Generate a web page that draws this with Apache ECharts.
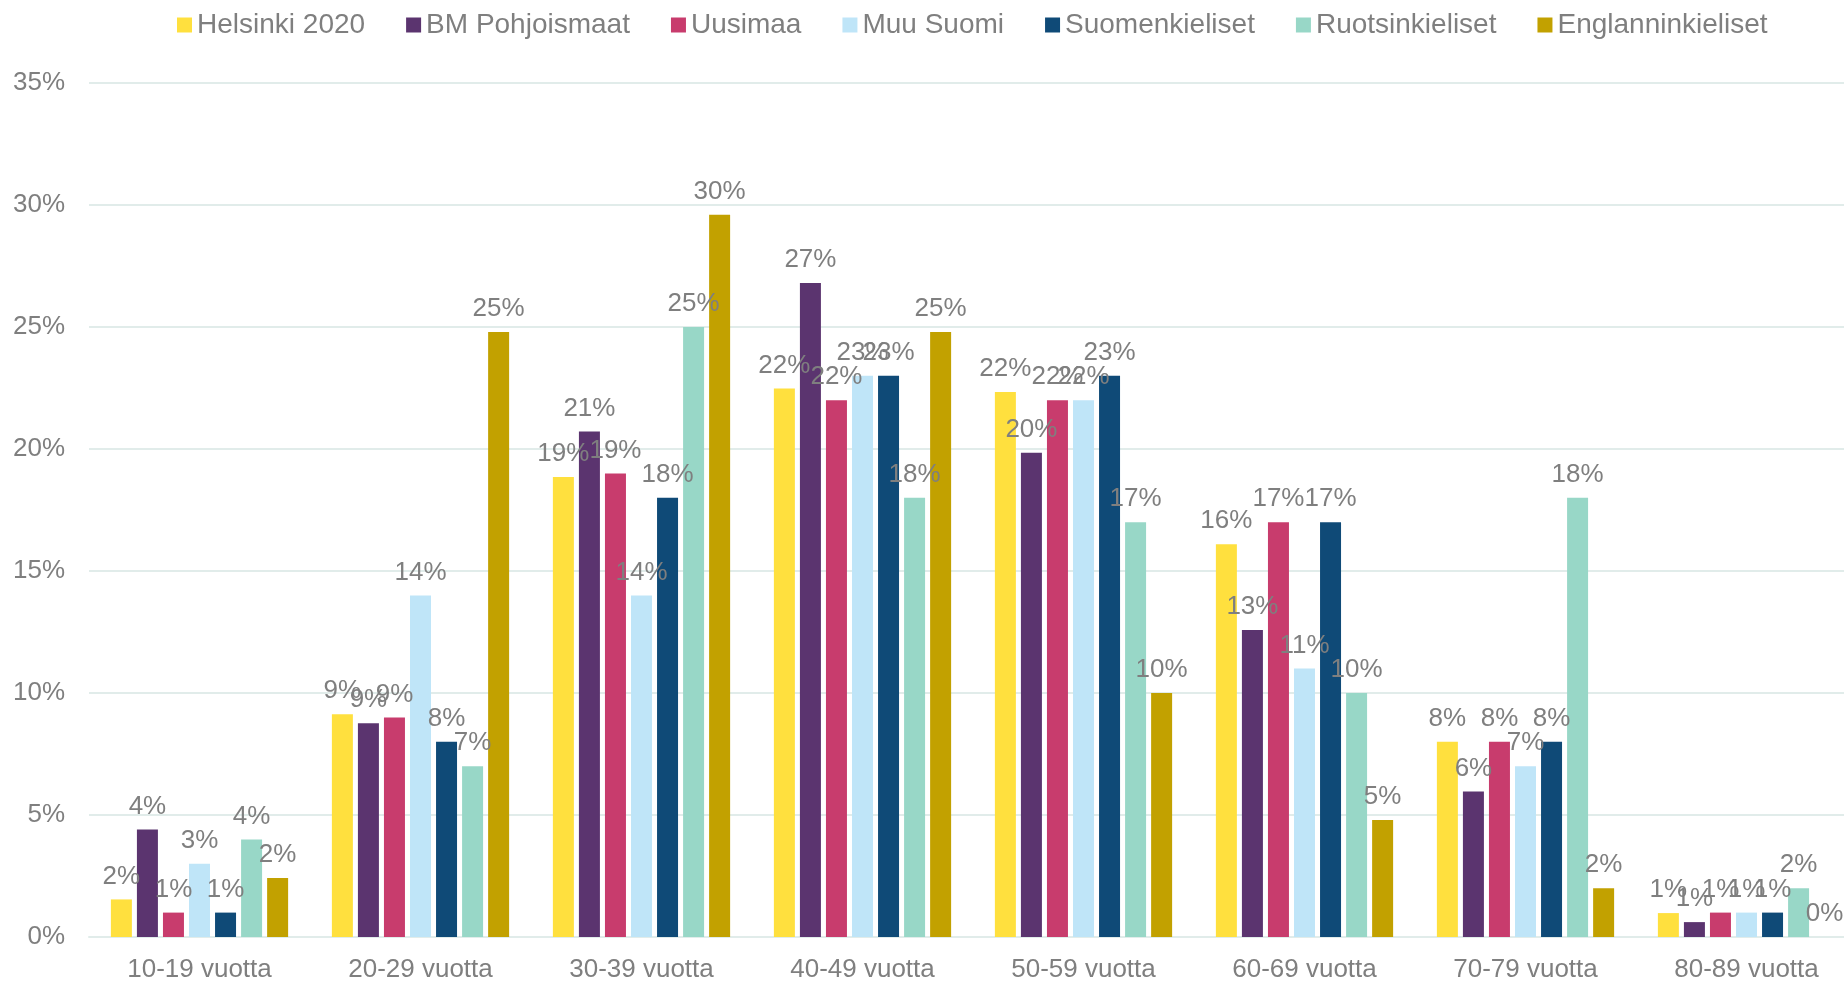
<!DOCTYPE html>
<html>
<head>
<meta charset="utf-8">
<script src="https://cdn.jsdelivr.net/npm/echarts@6/dist/echarts.min.js"></script>
<style>
    html, body { margin: 0; padding: 0; background: #fff; overflow: hidden; }
    /* the original chart is cut off on the right, so the canvas is a bit wider than the window */
    #chart { width: 1870px; height: 983px; }
</style>
</head>
<body>
<div id="chart"></div>
<script>
// age groups on the x axis
const categories = ['10-19 vuotta', '20-29 vuotta', '30-39 vuotta', '40-49 vuotta',
    '50-59 vuotta', '60-69 vuotta', '70-79 vuotta', '80-89 vuotta'];

// shares in percent
const helsinki2020 = [1.54, 9.13, 18.85, 22.48, 22.34, 16.1, 8.0, 0.98];
const bmPohjoismaat = [4.41, 8.76, 20.72, 26.8, 19.85, 12.58, 5.96, 0.61];
const uusimaa = [1.0, 9.0, 19.0, 22.0, 22.0, 17.0, 8.0, 1.0];
const muuSuomi = [3.0, 14.0, 14.0, 23.0, 22.0, 11.0, 7.0, 1.0];
const suomenkieliset = [1.0, 8.0, 18.0, 23.0, 23.0, 17.0, 8.0, 1.0];
const ruotsinkieliset = [4.0, 7.0, 25.0, 18.0, 17.0, 10.0, 18.0, 2.0];
const englanninkieliset = [2.42, 24.8, 29.6, 24.8, 10.0, 4.8, 2.0, 0];

const seriesNames = ['Helsinki 2020', 'BM Pohjoismaat', 'Uusimaa', 'Muu Suomi',
    'Suomenkieliset', 'Ruotsinkieliset', 'Englanninkieliset'];
const seriesData = [helsinki2020, bmPohjoismaat, uusimaa, muuSuomi,
    suomenkieliset, ruotsinkieliset, englanninkieliset];
const colors = ['#ffe03e', '#5b346f', '#c83c6d', '#bfe5f8', '#0f4a77', '#98d7c7', '#c2a100'];

// y axis ticks
const yMin = 0;
const yMax = 35;
const yStep = 5;

const textGray = '#7f7f7f';
const gridColor = '#e1ecea';
const font = '"Liberation Sans", Arial, sans-serif';

function getOption() {
    let series = seriesNames.map((name, i) => ({
        name: name,
        type: 'bar',
        data: seriesData[i],
        barWidth: 21,
        barGap: '24%',
        itemStyle: { color: colors[i] },
        label: {
            show: true,
            position: 'top',
            distance: 10,
            color: textGray,
            fontSize: 26,
            fontFamily: font,
            formatter: p => Math.round(p.value) + '%'
        },
        emphasis: { disabled: true }
    }));

    let option = {
        backgroundColor: '#fff',
        animation: false,
        color: colors,
        legend: {
            top: 6,
            left: 172,
            itemWidth: 15,
            itemHeight: 15,
            itemGap: 41,
            icon: 'rect',
            textStyle: { color: textGray, fontSize: 28, fontFamily: font },
            data: seriesNames
        },
        grid: {
            left: 89,
            top: 83,
            width: 1768,
            height: 857
        },
        xAxis: {
            type: 'category',
            data: categories,
            axisTick: { show: false },
            axisLine: { lineStyle: { color: gridColor, width: 2 } },
            axisLabel: { color: textGray, fontSize: 26, fontFamily: font, margin: 20 }
        },
        yAxis: {
            type: 'value',
            min: yMin,
            max: yMax,
            interval: yStep,
            axisLine: { show: false },
            axisTick: { show: false },
            splitLine: { lineStyle: { color: gridColor, width: 2 } },
            axisLabel: {
                color: textGray,
                fontSize: 26,
                fontFamily: font,
                margin: 24,
                formatter: v => v + '%'
            }
        },
        series: series
    };
    return option;
}

let myChart = echarts.init(document.getElementById('chart'));
myChart.setOption(getOption());
</script>
</body>
</html>
